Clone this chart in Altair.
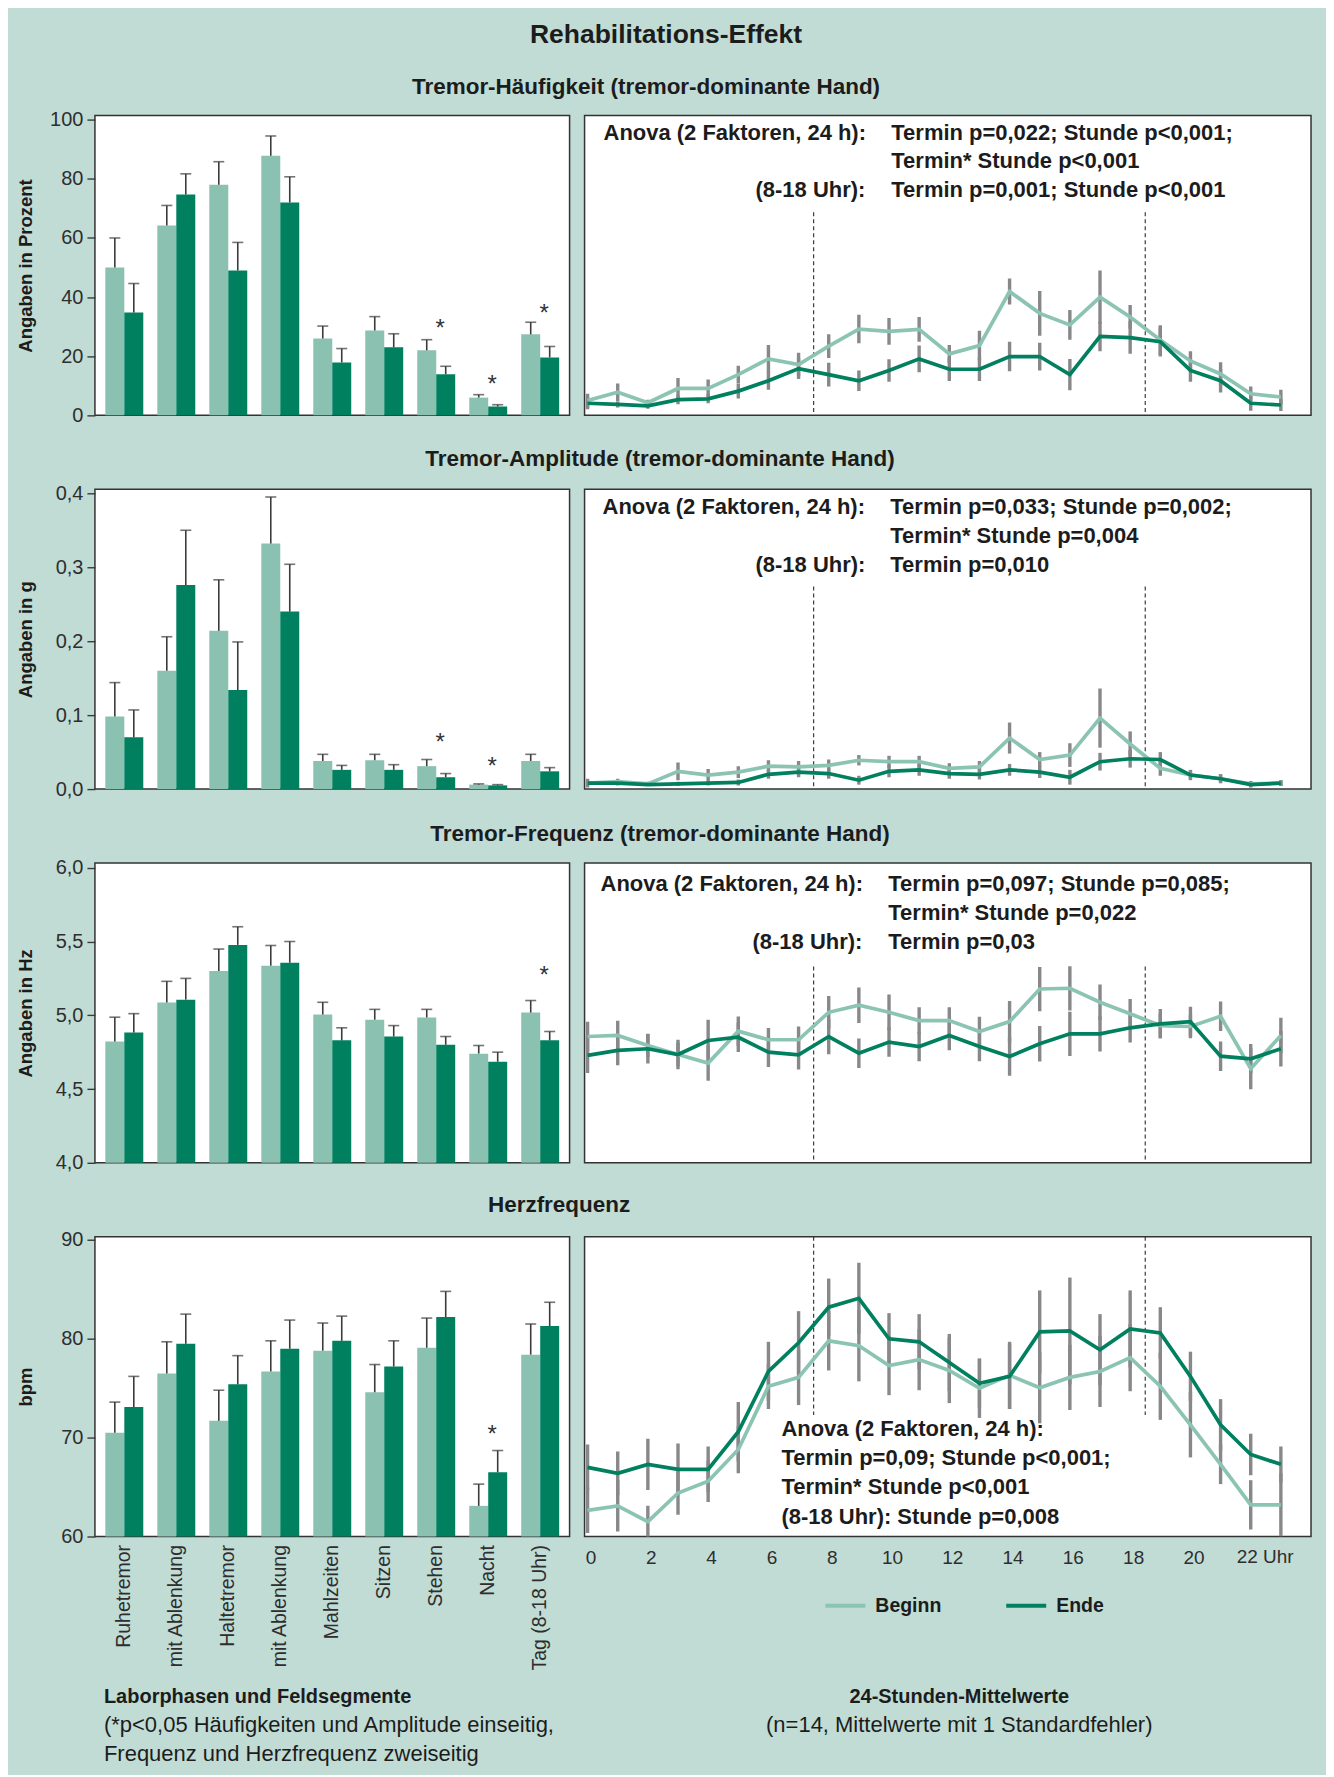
import json
import altair as alt
import pandas as pd

# ---------------- data ----------------
CATS = ["Ruhetremor", "mit Ablenkung", "Haltetremor", "mit Ablenkung", "Mahlzeiten",
        "Sitzen", "Stehen", "Nacht", "Tag (8-18 Uhr)"]
SERIES = ["Beginn", "Ende"]
HOURS = list(range(24))
HOUR_TICKS = list(range(0, 21, 2))
DAY_LIMITS = [7.5, 18.5]

# Tremor-Häufigkeit (%)
HF_BAR_B = [50.0, 64.2, 78.0, 87.8, 26.0, 28.7, 22.0, 6.0, 27.4]
HF_BAR_B_SE = [10.0, 6.8, 7.8, 6.7, 4.2, 4.7, 3.6, 1.0, 4.1]
HF_BAR_E = [34.8, 74.7, 49.0, 72.0, 17.9, 23.0, 13.9, 3.0, 19.6]
HF_BAR_E_SE = [9.8, 7.0, 9.5, 8.7, 4.7, 4.6, 2.7, 0.6, 3.7]
HF_STAR_CAT = [6, 7, 8]
HF_STAR_Y = [30.7, 11.5, 35.5]
HF_LINE_B = [5.0, 7.8, 4.3, 9.1, 9.1, 13.8, 19.1, 17.2, 23.4, 29.2, 28.4, 29.1,
             20.8, 23.6, 41.9, 34.5, 30.6, 40.0, 33.3, 25.5, 18.4, 14.0, 7.3, 6.2]
HF_LINE_B_SE = [2.3, 3.0, 1.0, 3.5, 3.0, 3.0, 4.7, 4.0, 4.0, 4.8, 4.5, 4.2,
                3.0, 5.0, 4.4, 7.6, 5.0, 9.0, 4.0, 5.0, 3.3, 4.0, 2.5, 2.5]
HF_LINE_E = [4.1, 3.7, 3.2, 5.3, 5.6, 8.2, 11.7, 15.8, 13.8, 11.7, 15.2, 19.1,
             15.6, 15.6, 19.9, 19.9, 13.8, 26.7, 26.3, 24.9, 15.2, 11.7, 4.1, 3.5]
HF_LINE_E_SE = [2.0, 1.0, 1.0, 1.5, 1.5, 2.5, 3.0, 3.5, 4.0, 3.5, 3.8, 4.5,
                4.0, 4.0, 5.0, 4.7, 5.3, 5.0, 5.5, 5.0, 3.8, 4.0, 2.5, 2.0]

# Tremor-Amplitude (g)
AM_BAR_B = [0.098, 0.160, 0.214, 0.332, 0.038, 0.039, 0.031, 0.006, 0.038]
AM_BAR_B_SE = [0.046, 0.046, 0.069, 0.063, 0.009, 0.008, 0.009, 0.001, 0.009]
AM_BAR_E = [0.070, 0.276, 0.134, 0.240, 0.026, 0.026, 0.016, 0.005, 0.024]
AM_BAR_E_SE = [0.037, 0.074, 0.065, 0.064, 0.006, 0.007, 0.005, 0.001, 0.005]
AM_STAR_CAT = [6, 7]
AM_STAR_Y = [0.068, 0.035]
AM_LINE_B = [0.008, 0.010, 0.007, 0.024, 0.019, 0.023, 0.031, 0.030, 0.032, 0.039, 0.037, 0.037,
             0.028, 0.030, 0.069, 0.040, 0.046, 0.096, 0.061, 0.028, 0.019, 0.014, 0.007, 0.008]
AM_LINE_B_SE = [0.006, 0.004, 0.003, 0.012, 0.008, 0.008, 0.008, 0.008, 0.008, 0.007, 0.008, 0.008,
                0.007, 0.008, 0.021, 0.010, 0.016, 0.040, 0.017, 0.010, 0.007, 0.006, 0.004, 0.004]
AM_LINE_E = [0.008, 0.008, 0.006, 0.007, 0.008, 0.009, 0.020, 0.023, 0.021, 0.012, 0.024, 0.026,
             0.021, 0.020, 0.026, 0.023, 0.016, 0.037, 0.041, 0.040, 0.019, 0.014, 0.006, 0.008]
AM_LINE_E_SE = [0.004, 0.003, 0.002, 0.003, 0.003, 0.004, 0.006, 0.007, 0.007, 0.006, 0.008, 0.008,
                0.007, 0.007, 0.008, 0.008, 0.010, 0.012, 0.012, 0.010, 0.006, 0.006, 0.004, 0.004]

# Tremor-Frequenz (Hz)
FQ_BAR_B = [4.822, 5.086, 5.300, 5.336, 5.005, 4.970, 4.985, 4.740, 5.018]
FQ_BAR_B_SE = [0.165, 0.144, 0.149, 0.137, 0.083, 0.070, 0.055, 0.055, 0.082]
FQ_BAR_E = [4.883, 5.106, 5.477, 5.356, 4.830, 4.856, 4.800, 4.685, 4.830]
FQ_BAR_E_SE = [0.128, 0.144, 0.123, 0.144, 0.085, 0.074, 0.056, 0.065, 0.060]
FQ_STAR_CAT = [8]
FQ_STAR_Y = [5.29]
FQ_LINE_B = [4.856, 4.863, 4.795, 4.734, 4.676, 4.892, 4.834, 4.834, 5.020, 5.068, 5.020, 4.964,
             4.964, 4.890, 4.957, 5.178, 5.183, 5.088, 5.010, 4.930, 4.924, 4.993, 4.638, 4.863]
FQ_LINE_B_SE = [0.10, 0.10, 0.08, 0.08, 0.12, 0.10, 0.08, 0.09, 0.11, 0.12, 0.12, 0.09,
                0.09, 0.10, 0.14, 0.15, 0.15, 0.12, 0.10, 0.08, 0.08, 0.10, 0.14, 0.12]
FQ_LINE_E = [4.728, 4.762, 4.773, 4.734, 4.829, 4.851, 4.750, 4.732, 4.856, 4.743, 4.818, 4.788,
             4.863, 4.788, 4.720, 4.807, 4.874, 4.874, 4.915, 4.942, 4.957, 4.723, 4.705, 4.773]
FQ_LINE_E_SE = [0.12, 0.10, 0.10, 0.10, 0.14, 0.10, 0.10, 0.10, 0.12, 0.10, 0.10, 0.10,
                0.10, 0.10, 0.13, 0.12, 0.15, 0.12, 0.10, 0.10, 0.10, 0.10, 0.10, 0.12]

# Herzfrequenz (bpm)
HR_BAR_B = [70.5, 76.5, 71.7, 76.7, 78.8, 74.6, 79.1, 63.1, 78.4]
HR_BAR_B_SE = [3.1, 3.2, 3.1, 3.1, 2.8, 2.8, 3.0, 2.2, 3.1]
HR_BAR_E = [73.1, 79.5, 75.4, 79.0, 79.8, 77.2, 82.2, 66.5, 81.3]
HR_BAR_E_SE = [3.1, 3.0, 2.9, 2.9, 2.5, 2.6, 2.6, 2.2, 2.4]
HR_STAR_CAT = [7]
HR_STAR_Y = [70.7]
HR_LINE_B = [62.65, 63.1, 61.5, 64.4, 65.6, 68.8, 75.2, 76.1, 79.8, 79.3, 77.3, 77.9,
             76.8, 75.0, 76.3, 75.05, 76.1, 76.7, 78.1, 75.2, 71.3, 67.3, 63.2, 63.2]
HR_LINE_B_SE = [2.3, 2.6, 1.6, 2.2, 2.1, 2.4, 2.3, 2.8, 3.0, 3.6, 3.0, 3.1,
                3.3, 3.0, 3.4, 3.6, 3.3, 3.6, 3.4, 3.4, 3.3, 2.0, 2.5, 3.2]
HR_LINE_E = [67.0, 66.4, 67.3, 66.8, 66.8, 70.6, 76.7, 79.6, 83.2, 84.1, 80.0, 79.7,
             77.6, 75.5, 76.2, 80.7, 80.8, 78.9, 81.0, 80.6, 76.2, 71.3, 68.3, 67.3]
HR_LINE_E_SE = [2.3, 2.2, 2.6, 2.6, 2.3, 3.0, 3.0, 3.2, 2.9, 3.6, 2.6, 2.8,
                2.9, 2.5, 3.3, 4.2, 5.4, 3.6, 3.9, 2.6, 2.5, 2.6, 2.1, 1.8]

# ---------------- style ----------------
BG = "#c1dcd5"
LIGHT = "#8bc1b1"
LIGHT_LINE = "#8cc4b4"
DARK = "#00805f"
ERR_BAR = "#3b3b3b"
ERR_LINE = "#88888b"
INK = "#1c1c1c"
LABEL = "#2e2e2e"
FONT = "Liberation Sans, Arial, sans-serif"

BAR_W, LINE_W, PH = 475, 727, 300


def note(txt, x, y, align="left", size=22, weight="bold"):
    return alt.Chart(alt.Data(values=[{"t": txt}])).mark_text(
        align=align, baseline="middle", font=FONT, fontSize=size,
        fontWeight=weight, color=INK
    ).encode(x=alt.value(x), y=alt.value(y), text="t:N")


def bar_panel(beg, beg_se, end, end_se, ymin, ymax, ticks, dec, ytitle,
              star_k, star_y, title, tdx, toff, bottom=False):
    n = len(CATS)
    df = pd.DataFrame({
        "k": list(range(n)) * 2,
        "s": [SERIES[0]] * n + [SERIES[1]] * n,
        "v": beg + end,
        "t": [a + b for a, b in zip(beg, beg_se)] + [a + b for a, b in zip(end, end_se)],
    })
    sdf = pd.DataFrame({"k": star_k, "y": star_y})
    if bottom:
        xaxis = alt.Axis(title=None, labelExpr=json.dumps(CATS) + "[datum.value]",
                         labelAngle=-90, labelFont=FONT, labelFontSize=19.5, labelColor=LABEL,
                         labelPadding=8, ticks=False, tickSize=0, domain=False, grid=False)
    else:
        xaxis = None
    yaxis = alt.Axis(values=ticks, labelExpr=f"replace(format(datum.value, '.{dec}f'), '.', ',')",
                     title=ytitle, titleX=-69, titleY=PH / 2, titleBaseline="middle",
                     titleAlign="center", titleFont=FONT, titleFontSize=18.5,
                     titleFontWeight="bold", titleColor=INK, labelFont=FONT,
                     labelFontSize=20, labelColor=LABEL, labelPadding=4, tickSize=8,
                     tickColor="#3a3a3a", tickWidth=1.4, domain=False, grid=False)
    xs = alt.Scale(paddingInner=0.27, paddingOuter=0.2)
    ys = alt.Scale(domain=[ymin, ymax], nice=False, zero=False)
    X = alt.X("k:O", scale=xs, axis=xaxis)
    XO = alt.XOffset("s:N", scale=alt.Scale(domain=SERIES))
    base = alt.Chart(df)
    bars = base.mark_bar().encode(
        x=X, xOffset=XO,
        y=alt.Y("v:Q", scale=ys, axis=yaxis), y2=alt.datum(ymin),
        color=alt.Color("s:N", scale=alt.Scale(domain=SERIES, range=[LIGHT, DARK]), legend=None),
    )
    err = base.mark_rule(color=ERR_BAR, strokeWidth=1.6).encode(
        x=X, xOffset=XO, y=alt.Y("v:Q", scale=ys, axis=yaxis), y2="t:Q")
    cap = base.mark_tick(color=ERR_BAR, thickness=1.6, size=11).encode(
        x=X, xOffset=XO, y=alt.Y("t:Q", scale=ys, axis=yaxis))
    star = alt.Chart(sdf).mark_text(text="*", font=FONT, fontSize=24, color="#333333",
                                    baseline="middle", dx=4, dy=4).encode(
        x=X, y=alt.Y("y:Q", scale=ys, axis=yaxis))
    layers = [bars, err, cap, star]
    if bottom:
        layers += [
            note("Laborphasen und Feldsegmente", 9, 461, size=20),
            note("(*p<0,05 Häufigkeiten und Amplitude einseitig,", 9, 489, size=22, weight="normal"),
            note("Frequenz und Herzfrequenz zweiseitig", 9, 518, size=22, weight="normal"),
        ]
    return alt.layer(*layers).properties(
        width=BAR_W, height=PH,
        title=alt.TitleParams(title, anchor="middle", frame="group", dx=tdx, offset=toff,
                              font=FONT, fontSize=22.5, fontWeight="bold", color=INK),
    )


def line_panel(beg, beg_se, end, end_se, ymin, ymax, dash_lo, dash_hi, notes, bottom=False):
    n = len(HOURS)
    vals = beg + end
    ses = beg_se + end_se
    df = pd.DataFrame({
        "h": HOURS * 2,
        "s": [SERIES[0]] * n + [SERIES[1]] * n,
        "v": vals,
        "lo": [a - b for a, b in zip(vals, ses)],
        "hi": [a + b for a, b in zip(vals, ses)],
    })
    xs = alt.Scale(domain=[-0.1, 24], nice=False, zero=False)
    ys = alt.Scale(domain=[ymin, ymax], nice=False, zero=False)
    if bottom:
        xaxis = alt.Axis(values=HOUR_TICKS, title=None, labelFont=FONT, labelFontSize=19,
                         labelColor=LABEL, labelPadding=12, labelOffset=3, ticks=False,
                         tickSize=0, domain=False, grid=False)
        legend = alt.Legend(orient="none", legendX=239, legendY=347, direction="horizontal",
                            title=None, symbolType="stroke", symbolStrokeWidth=4,
                            symbolSize=1600, labelFont=FONT, labelFontSize=19.5,
                            labelFontWeight="bold", labelColor=INK, labelOffset=8,
                            columnPadding=56, padding=0)
    else:
        xaxis = None
        legend = None
    X = alt.X("h:Q", scale=xs, axis=xaxis)
    ddf = pd.DataFrame({"h": DAY_LIMITS, "y1": [dash_lo] * 2, "y2": [dash_hi] * 2})
    dash = alt.Chart(ddf).mark_rule(color="#2b2b2b", strokeWidth=1.1, strokeDash=[4, 3]).encode(
        x=X, y=alt.Y("y1:Q", scale=ys, axis=None), y2="y2:Q")
    base = alt.Chart(df)
    err = base.mark_rule(color=ERR_LINE, strokeWidth=3.4, clip=True).encode(
        x=X, y=alt.Y("lo:Q", scale=ys, axis=None), y2="hi:Q")
    line = base.mark_line(strokeWidth=3.7, clip=True).encode(
        x=X, y=alt.Y("v:Q", scale=ys, axis=None),
        color=alt.Color("s:N", scale=alt.Scale(domain=SERIES, range=[LIGHT_LINE, DARK]),
                        legend=legend),
    )
    layers = [dash, err, line]
    for t in notes:
        layers.append(note(*t))
    if bottom:
        uhr = alt.Chart(alt.Data(values=[{"h": 22, "t": "22 Uhr"}])).mark_text(
            align="left", baseline="top", dx=-14, font=FONT, fontSize=19, color=LABEL
        ).encode(x=X, y=alt.value(PH + 12), text="t:N")
        layers += [
            uhr,
            note("24-Stunden-Mittelwerte", 375, 461, align="center", size=20),
            note("(n=14, Mittelwerte mit 1 Standardfehler)", 375, 489, align="center",
                 size=22, weight="normal"),
        ]
    return alt.layer(*layers).properties(width=LINE_W, height=PH)


ANOVA = "Anova (2 Faktoren, 24 h):"
DAY = "(8-18 Uhr):"

bar1 = bar_panel(HF_BAR_B, HF_BAR_B_SE, HF_BAR_E, HF_BAR_E_SE, 0, 101.4,
                 [0, 20, 40, 60, 80, 100], 0, "Angaben in Prozent", HF_STAR_CAT, HF_STAR_Y,
                 "Tremor-Häufigkeit (tremor-dominante Hand)", 314, 11)
line1 = line_panel(HF_LINE_B, HF_LINE_B_SE, HF_LINE_E, HF_LINE_E_SE, 0, 101.4, 68.7, 0, [
    (ANOVA, 19, 17), ("Termin p=0,022; Stunde p<0,001;", 307, 17),
    ("Termin* Stunde p<0,001", 307, 45), (DAY, 281, 74, "right"),
    ("Termin p=0,001; Stunde p<0,001", 307, 74)])

bar2 = bar_panel(AM_BAR_B, AM_BAR_B_SE, AM_BAR_E, AM_BAR_E_SE, 0, 0.4054,
                 [0, 0.1, 0.2, 0.3, 0.4], 1, "Angaben in g", AM_STAR_CAT, AM_STAR_Y,
                 "Tremor-Amplitude (tremor-dominante Hand)", 328, 13)
line2 = line_panel(AM_LINE_B, AM_LINE_B_SE, AM_LINE_E, AM_LINE_E_SE, 0, 0.4054, 0.274, 0, [
    (ANOVA, 18, 18), ("Termin p=0,033; Stunde p=0,002;", 306, 18),
    ("Termin* Stunde p=0,004", 306, 47), (DAY, 281, 76, "right"),
    ("Termin p=0,010", 306, 76)])

bar3 = bar_panel(FQ_BAR_B, FQ_BAR_B_SE, FQ_BAR_E, FQ_BAR_E_SE, 4.0, 6.032,
                 [4.0, 4.5, 5.0, 5.5, 6.0], 1, "Angaben in Hz", FQ_STAR_CAT, FQ_STAR_Y,
                 "Tremor-Frequenz (tremor-dominante Hand)", 328, 12)
line3 = line_panel(FQ_LINE_B, FQ_LINE_B_SE, FQ_LINE_E, FQ_LINE_E_SE, 4.0, 6.032, 5.33, 4.0, [
    (ANOVA, 16, 21), ("Termin p=0,097; Stunde p=0,085;", 304, 21),
    ("Termin* Stunde p=0,022", 304, 50), (DAY, 278, 79, "right"),
    ("Termin p=0,03", 304, 79)])

bar4 = bar_panel(HR_BAR_B, HR_BAR_B_SE, HR_BAR_E, HR_BAR_E_SE, 60, 90.33,
                 [60, 70, 80, 90], 0, "bpm", HR_STAR_CAT, HR_STAR_Y,
                 "Herzfrequenz", 227, 14, bottom=True)
line4 = line_panel(HR_LINE_B, HR_LINE_B_SE, HR_LINE_E, HR_LINE_E_SE, 60, 90.33, 90.33, 72.3, [
    (ANOVA, 197, 192), ("Termin p=0,09; Stunde p<0,001;", 197, 221),
    ("Termin* Stunde p<0,001", 197, 250), ("(8-18 Uhr): Stunde p=0,008", 197, 280)],
    bottom=True)

chart = alt.concat(
    bar1, line1, bar2, line2, bar3, line3, bar4, line4,
    columns=2, bounds="flush", align="each", spacing={"row": 74, "column": 15},
    title=alt.TitleParams("Rehabilitations-Effekt", anchor="middle", offset=27, dx=2,
                          font=FONT, fontSize=26.5, fontWeight="bold", color=INK),
).resolve_scale(color="independent").properties(
    background=BG, padding={"left": 8, "top": 13, "right": 14, "bottom": 8},
).configure_view(fill="white", stroke="#333333", strokeWidth=1.5)

chart.save("out.html", embed_options={"renderer": "svg", "actions": False})
